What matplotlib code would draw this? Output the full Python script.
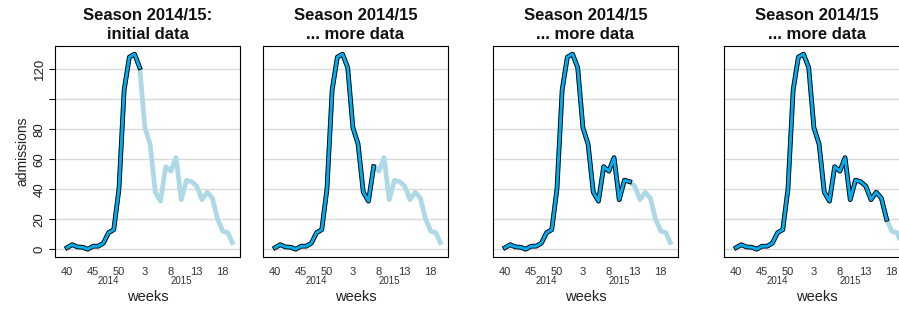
"""
Season 2014/15 admissions - nowcasting panels
"""

import matplotlib

matplotlib.use("Agg")
import matplotlib.pyplot as plt
import matplotlib.patheffects as pe

plt.rcParams["font.family"] = ["Liberation Sans", "DejaVu Sans"]

# data: weekly admissions, season 2014/15 (week 40/2014 .. week 20/2015)
week_numbers = list(range(40, 53)) + list(range(1, 21))
admissions = [1, 3, 1.5, 1.3, 0, 2, 2, 4, 11, 13, 40, 106, 128, 130, 121,
              81, 70, 38, 32, 55, 52, 61, 33, 46, 45, 42, 33, 38, 34, 20,
              12, 11, 3]
# last observed index shown in dark for each panel
cutoffs = [14, 19, 24, 29]
titles = [
    "Season 2014/15:\ninitial data",
    "Season 2014/15\n... more data",
    "Season 2014/15\n... more data",
    "Season 2014/15\n... more data",
]
tick_weeks = [40, 45, 50, 3, 8, 13, 18]
year_labels = ["2014", "2015"]
year_label_weeks = [48, 10]
y_ticks = [0, 20, 40, 60, 80, 100, 120]
y_tick_labels = ["0", "20", "40", "60", "80", "", "120"]

W, H = 899, 311
fig = plt.figure(figsize=(W / 100, H / 100), dpi=100)

panel_left_px = [55, 263, 493, 724]
panel_w_px, top_px, bottom_px = 185, 46, 257

x = list(range(len(admissions)))
xticks = [week_numbers.index(w) for w in tick_weeks]
year_x = [week_numbers.index(w) for w in year_label_weeks]

for k, (left_px, cut, title) in enumerate(zip(panel_left_px, cutoffs, titles)):
    ax = fig.add_axes([
        left_px / W,
        (H - bottom_px) / H,
        panel_w_px / W,
        (bottom_px - top_px) / H,
    ])
    for yv in y_ticks:
        ax.axhline(yv, color="#d9d9d9", linewidth=1.0, zorder=0)

    ax.plot(x, admissions, color="#add8e6", linewidth=3.4,
            solid_capstyle="butt", solid_joinstyle="round", zorder=2)
    ax.plot(x[:cut + 1], admissions[:cut + 1], color="#00aeef", linewidth=2.1,
            solid_joinstyle="round", zorder=3,
            path_effects=[pe.Stroke(linewidth=3.4, foreground="black"), pe.Normal()])

    ax.set_xlim(-2.32, 33.32)
    ax.set_ylim(-5.2, 135.4)

    ax.set_xticks(xticks)
    ax.set_xticklabels([str(w) for w in tick_weeks], fontsize=8, color="#333333")
    ax.tick_params(axis="x", length=0, pad=7.5)
    for lbl, xv in zip(year_labels, year_x):
        ax.text(xv, -0.114, lbl, transform=ax.get_xaxis_transform(),
                ha="center", va="center", fontsize=7, color="#333333")
    ax.text(0.5, -0.188, "weeks", transform=ax.transAxes,
            ha="center", va="center", fontsize=10.5, color="#222222")

    if k == 0:
        ax.set_yticks(y_ticks)
        ax.set_yticklabels(y_tick_labels, rotation=90, va="center", fontsize=9.5,
                           color="#222222")
        ax.tick_params(axis="y", length=4.3, width=0.8, pad=2.5)
        ax.set_ylabel("admissions", fontsize=10, labelpad=3, color="#222222")
    else:
        ax.set_yticks([])

    for sp in ax.spines.values():
        sp.set_linewidth(0.8)
        sp.set_color("black")

    ax.set_title(title, fontsize=12, fontweight="bold", pad=5, linespacing=1.35,
                 color="#111111")

fig.savefig("out.png", dpi=100)
plt.close(fig)
